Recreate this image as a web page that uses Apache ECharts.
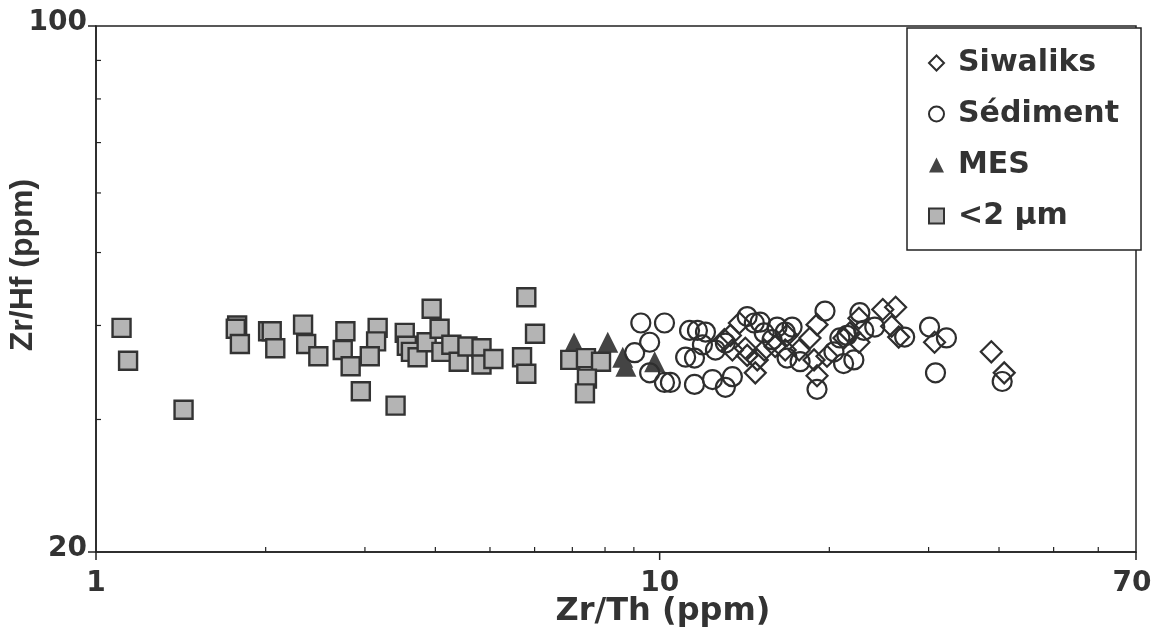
<!DOCTYPE html>
<html><head><meta charset="utf-8">
<script src="https://cdn.jsdelivr.net/npm/echarts@6/dist/echarts.min.js"></script>
<style>html,body{margin:0;padding:0;background:#fff}#c{width:1155px;height:639px}</style>
</head><body><div id="c"></div>
<script>
const xMin = 1, xMax = 70, yMin = 20, yMax = 100;
const xMajorTicks = [1, 10, 70];
const xMinorTicks = [2, 3, 4, 5, 6, 7, 8, 9, 20, 30, 40, 50, 60];
const yMajorTicks = [20, 100];
const yMinorTicks = [30, 40, 50, 60, 70, 80, 90];
const xTitle = 'Zr/Th (ppm)';
const yTitle = 'Zr/Hf (ppm)';
const legendNames = ['Siwaliks', 'Sédiment', 'MES', '<2 μm'];

const siwaliks = [[13.85,40.3],[13.35,38.8],[13.03,38.3],[13.46,37.1],[14.19,37.3],[14.30,36.5],[14.78,34.6],[14.90,36.0],[15.33,37.1],[16.03,37.5],[16.83,38.8],[16.70,37.1],[17.68,37.1],[18.48,38.5],[19.02,40.1],[18.79,36.0],[19.02,34.3],[19.81,36.4],[21.23,38.5],[21.75,39.1],[22.57,40.9],[22.57,38.0],[24.88,42.0],[26.22,42.3],[25.80,39.9],[26.55,38.6],[30.74,38.0],[38.76,36.9],[40.86,34.6]];
const sediment = [[9.26,40.3],[10.20,40.3],[9.60,38.0],[9.03,36.8],[9.60,34.6],[10.20,33.6],[10.45,33.6],[11.30,39.4],[11.67,39.4],[12.06,39.2],[11.12,36.3],[11.53,36.2],[11.91,37.7],[11.53,33.4],[12.41,33.9],[12.56,37.1],[13.08,37.9],[14.30,41.1],[13.46,34.2],[13.08,33.1],[14.72,40.3],[15.08,40.4],[15.33,39.1],[15.83,38.3],[16.16,39.8],[16.70,39.2],[17.18,39.8],[16.83,36.2],[17.75,35.8],[19.65,41.8],[19.02,32.9],[20.38,36.9],[20.88,38.5],[21.49,38.8],[22.11,36.0],[22.66,41.6],[23.03,39.4],[24.08,39.8],[27.21,38.6],[30.12,39.8],[32.27,38.5],[30.86,34.6],[40.53,33.7],[21.2,35.6]];
const mes = [[7.05,37.9],[8.09,38.0],[8.60,36.3],[8.71,35.3],[9.80,35.8]];
const clay = [[1.11,39.7],[1.14,35.9],[1.43,30.9],[1.78,40.0],[1.77,39.6],[1.80,37.8],[2.02,39.3],[2.05,39.3],[2.08,37.3],[2.33,40.1],[2.36,37.8],[2.48,36.4],[2.77,39.3],[2.74,37.1],[2.83,35.3],[2.95,32.7],[3.16,39.7],[3.14,38.1],[3.06,36.4],[3.40,31.3],[3.53,39.1],[3.56,37.6],[3.62,36.9],[3.72,36.3],[3.94,42.1],[3.86,38.0],[4.07,39.6],[4.10,36.9],[4.27,37.7],[4.40,35.8],[4.56,37.5],[4.83,37.3],[4.83,35.5],[5.07,36.1],[5.80,43.6],[6.01,39.0],[5.70,36.3],[5.80,34.5],[6.94,36.0],[7.40,36.2],[7.87,35.8],[7.43,34.0],[7.37,32.5]];

const INK = '#333';
const FONT = '"DejaVu Sans", "Liberation Sans", Arial, sans-serif';
const FONT_NARROW = '"Liberation Sans", Arial, sans-serif';

function tickSeries(values, axis, major) {
  return {
    type: 'custom', silent: true, clip: false, z: 6,
    data: values.map(v => axis === 'x' ? [v, yMin] : [xMin, v]),
    encode: { x: 0, y: 1 },
    renderItem: (params, api) => {
      const v = axis === 'x' ? api.value(0) : api.value(1);
      const p = api.coord([api.value(0), api.value(1)]);
      const children = [];
      if (axis === 'x') {
        if (major) {
          children.push({ type: 'line', shape: { x1: p[0], y1: p[1], x2: p[0], y2: p[1] + 8 }, style: { stroke: '#222', lineWidth: 1.5 } });
          children.push({ type: 'text', x: p[0] - (v === xMax ? 4 : 0), y: p[1] + 18, style: { text: String(v), align: 'center', verticalAlign: 'top', font: 'bold 28px ' + FONT, fill: INK } });
        } else {
          children.push({ type: 'line', shape: { x1: p[0], y1: p[1], x2: p[0], y2: p[1] - 5 }, style: { stroke: '#222', lineWidth: 1.2 } });
        }
      } else {
        if (major) {
          children.push({ type: 'line', shape: { x1: p[0], y1: p[1], x2: p[0] - 8, y2: p[1] }, style: { stroke: '#222', lineWidth: 1.5 } });
          children.push({ type: 'text', x: p[0] - 9, y: p[1] - 3, style: { text: String(v), align: 'right', verticalAlign: 'middle', font: 'bold 28px ' + FONT, fill: INK } });
        } else {
          children.push({ type: 'line', shape: { x1: p[0], y1: p[1], x2: p[0] + 5, y2: p[1] }, style: { stroke: '#222', lineWidth: 1.2 } });
        }
      }
      return { type: 'group', children };
    }
  };
}

const chart = echarts.init(document.getElementById('c'), null, { renderer: 'canvas' });
chart.setOption({
  animation: false,
  backgroundColor: '#fff',
  grid: { left: 96, right: 19, top: 26, bottom: 87, show: true, borderColor: '#222', borderWidth: 1.5, backgroundColor: 'transparent' },
  xAxis: { type: 'log', logBase: 10, min: xMin, max: xMax,
    axisLine: { show: true, lineStyle: { color: '#222', width: 1.5 } },
    axisTick: { show: false }, axisLabel: { show: false }, splitLine: { show: false }, minorTick: { show: false } },
  yAxis: { type: 'log', logBase: 10, min: yMin, max: yMax,
    axisLine: { show: true, lineStyle: { color: '#222', width: 1.5 } },
    axisTick: { show: false }, axisLabel: { show: false }, splitLine: { show: false }, minorTick: { show: false } },
  legend: {
    data: legendNames, orient: 'vertical', left: 907, top: 28,
    padding: [17, 22, 16, 21], itemGap: 15, itemWidth: 15, itemHeight: 15,
    backgroundColor: '#fff', borderColor: '#222', borderWidth: 1.5, borderRadius: 0,
    textStyle: { fontFamily: FONT, fontWeight: 'bold', fontSize: 30, color: INK, lineHeight: 36, padding: [0, 0, 0, 9] },
    selectedMode: false
  },
  graphic: [
    { type: 'text', x: 663, y: 612, style: { text: xTitle, align: 'center', verticalAlign: 'middle', font: 'bold 32px ' + FONT, fill: INK } },
    { type: 'text', x: 23, y: 265, rotation: Math.PI / 2, style: { text: yTitle, align: 'center', verticalAlign: 'middle', font: 'bold 32px ' + FONT_NARROW, fill: INK } }
  ],
  series: [
    { name: 'MES', type: 'scatter', data: mes, symbol: 'triangle', symbolSize: 21, z: 3,
      itemStyle: { color: '#444', opacity: 1 } },
    { name: '<2 μm', type: 'scatter', data: clay, symbol: 'rect', symbolSize: 18, z: 3,
      itemStyle: { color: '#b4b4b4', borderColor: '#333', borderWidth: 2.4, opacity: 1 } },
    { name: 'Sédiment', type: 'scatter', data: sediment, symbol: 'circle', symbolSize: 19, z: 3,
      itemStyle: { color: 'rgba(255,255,255,0)', borderColor: '#2e2e2e', borderWidth: 2.2, opacity: 1 } },
    { name: 'Siwaliks', type: 'scatter', data: siwaliks, symbol: 'diamond', symbolSize: 21, z: 3,
      itemStyle: { color: 'rgba(255,255,255,0)', borderColor: '#2e2e2e', borderWidth: 2.2, opacity: 1 } },
    tickSeries(xMajorTicks, 'x', true),
    tickSeries(xMinorTicks, 'x', false),
    tickSeries(yMajorTicks, 'y', true),
    tickSeries(yMinorTicks, 'y', false)
  ]
});
</script></body></html>
